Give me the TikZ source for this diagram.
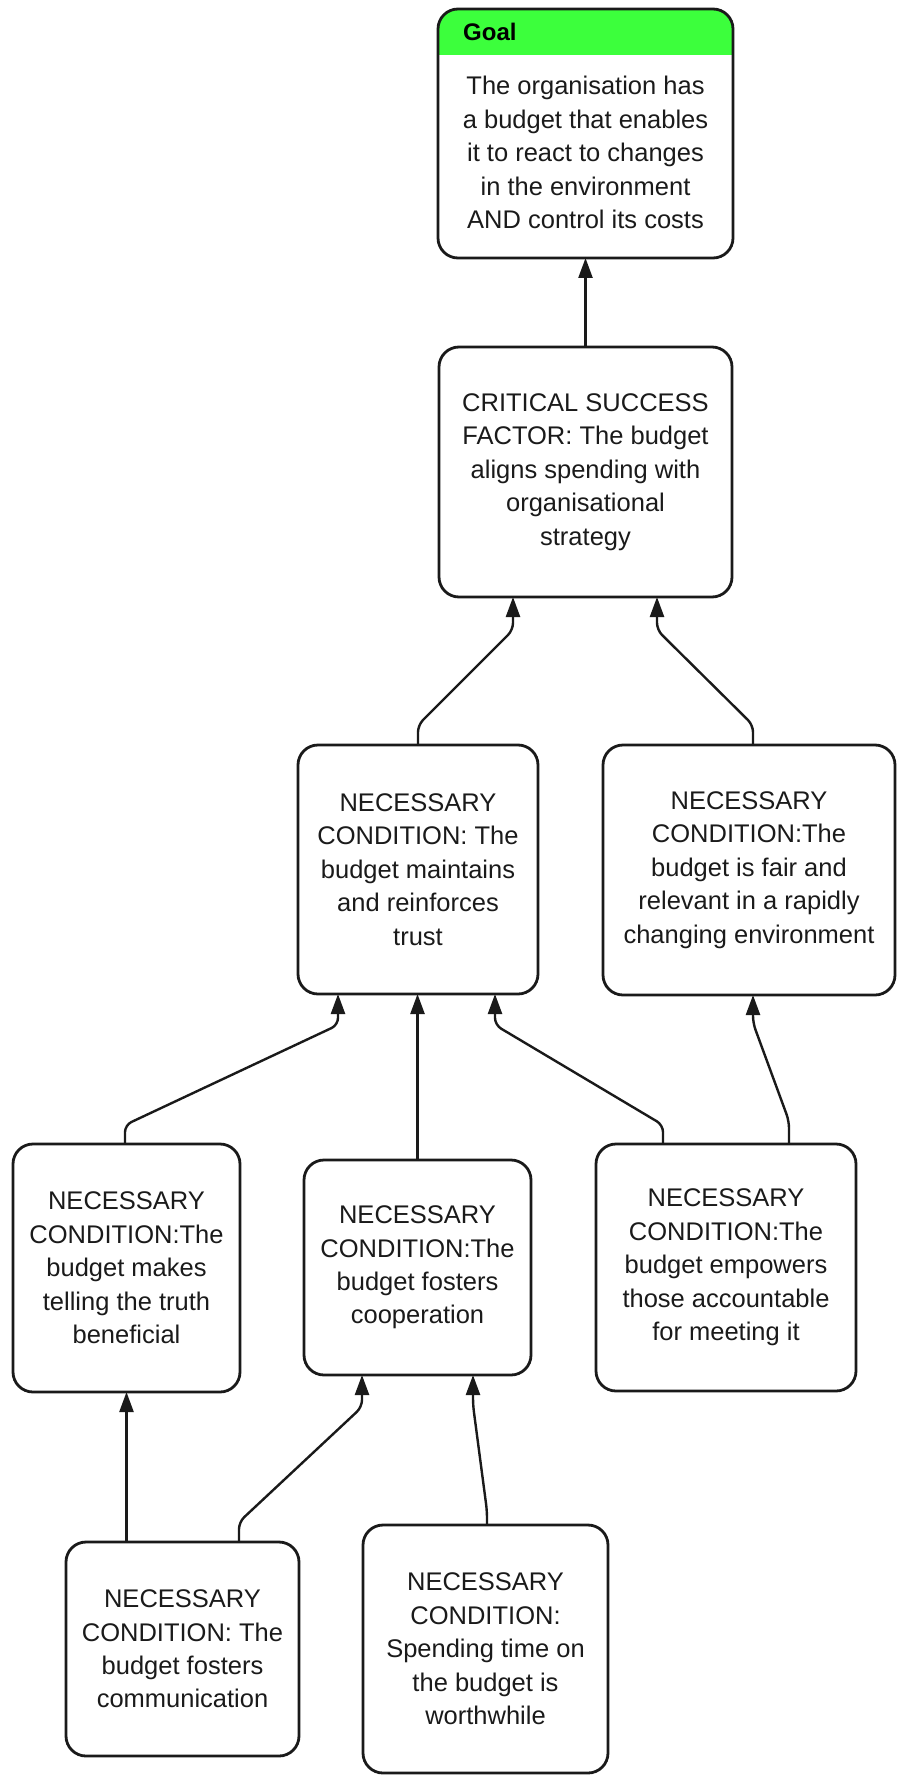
\documentclass[tikz,border=0pt]{standalone}
\usepackage{fontspec}
\setmainfont{Liberation Sans}
\usetikzlibrary{arrows.meta,calc}
\definecolor{goalgreen}{HTML}{3CFF3C}
\definecolor{inkcol}{HTML}{1A1A1A}
\begin{document}
\begin{tikzpicture}[x=1pt,y=-1pt,
  box/.style={draw=inkcol, line width=2.8pt, rounded corners=20pt, outer sep=0pt,
    inner sep=0pt, align=center, text=inkcol, font=\fontsize{25.5}{33.4}\selectfont},
  txt/.style={align=center, text=inkcol, inner sep=0pt, font=\fontsize{25.5}{33.4}\selectfont},
  hdr/.style={inner sep=0pt, text=black, font=\fontsize{24}{28}\selectfont\bfseries},
  link/.style={draw=inkcol, line width=2.4pt, rounded corners=7pt,
    -{Triangle[length=20pt,width=14pt]}},
]
\useasboundingbox (0,0) rectangle (897,1776);

% goal box with green title band
\node[box, minimum width=295pt, minimum height=249pt,
  path picture={\fill[goalgreen, sharp corners] (path picture bounding box.north west)
    rectangle ([yshift=-46pt]path picture bounding box.north east);}] (goal) at (585.5,133.5) {};
\node[hdr, anchor=west] (goalhdr) at ($(goal.north west)+(25,23)$) {Goal};
\node[txt] (goaltxt) at ($(goal.center)+(0,19)$)
  {The organisation has\\a budget that enables\\it to react to changes\\in the environment\\AND control its costs};

% critical success factor
\node[box, minimum width=293pt, minimum height=250pt] (csf) at (585.5,472)
  {CRITICAL SUCCESS\\FACTOR: The budget\\aligns spending with\\organisational\\strategy};

% necessary conditions, second level
\node[box, minimum width=240pt, minimum height=249pt] (trust) at (418,869.5)
  {NECESSARY\\CONDITION: The\\budget maintains\\and reinforces\\trust};
\node[box, minimum width=292pt, minimum height=250pt] (fair) at (749,870)
  {NECESSARY\\CONDITION:The\\budget is fair and\\relevant in a rapidly\\changing environment};

% necessary conditions, third level
\node[box, minimum width=227pt, minimum height=248pt] (truth) at (126.5,1268)
  {NECESSARY\\CONDITION:The\\budget makes\\telling the truth\\beneficial};
\node[box, minimum width=227pt, minimum height=215pt] (coop) at (417.5,1267.5)
  {NECESSARY\\CONDITION:The\\budget fosters\\cooperation};
\node[box, minimum width=260pt, minimum height=247pt] (empower) at (726,1267.5)
  {NECESSARY\\CONDITION:The\\budget empowers\\those accountable\\for meeting it};

% necessary conditions, bottom level
\node[box, minimum width=233pt, minimum height=214pt] (comm) at (182.5,1649)
  {NECESSARY\\CONDITION: The\\budget fosters\\communication};
\node[box, minimum width=245pt, minimum height=248pt] (spend) at (485.5,1649)
  {NECESSARY\\CONDITION:\\Spending time on\\the budget is\\worthwhile};

% connectors
\draw[link] (csf.north) -- (goal.south);
\draw[link] (trust.north) -- ++(0,-20) -- ($(csf.south)+(-72.5,33)$) -- ($(csf.south)+(-72.5,0)$);
\draw[link] ($(fair.north)+(4,0)$) -- ++(0,-20) -- ($(csf.south)+(71.5,33)$) -- ($(csf.south)+(71.5,0)$);
\draw[link] ($(truth.north)+(-1.5,0)$) -- ++(0,-19) -- ($(trust.south)+(-80,31)$) -- ($(trust.south)+(-80,0)$);
\draw[link] (coop.north) -- (coop.north |- trust.south);
\draw[link] ($(empower.north)+(-63,0)$) -- ++(0,-19) -- ($(trust.south)+(77,31)$) -- ($(trust.south)+(77,0)$);
\draw[link] ($(empower.north)+(63,0)$) -- ++(0,-23) -- ($(fair.south)+(4,28)$) -- ($(fair.south)+(4,0)$);
\draw[link] ($(comm.north)+(-56,0)$) -- (truth.south);
\draw[link] ($(comm.north)+(56.5,0)$) -- ++(0,-20) -- ($(coop.south)+(-55.5,32)$) -- ($(coop.south)+(-55.5,0)$);
\draw[link] ($(spend.north)+(1.5,0)$) -- ++(0,-14) -- ($(coop.south)+(55.5,30)$) -- ($(coop.south)+(55.5,0)$);
\end{tikzpicture}
\end{document}
